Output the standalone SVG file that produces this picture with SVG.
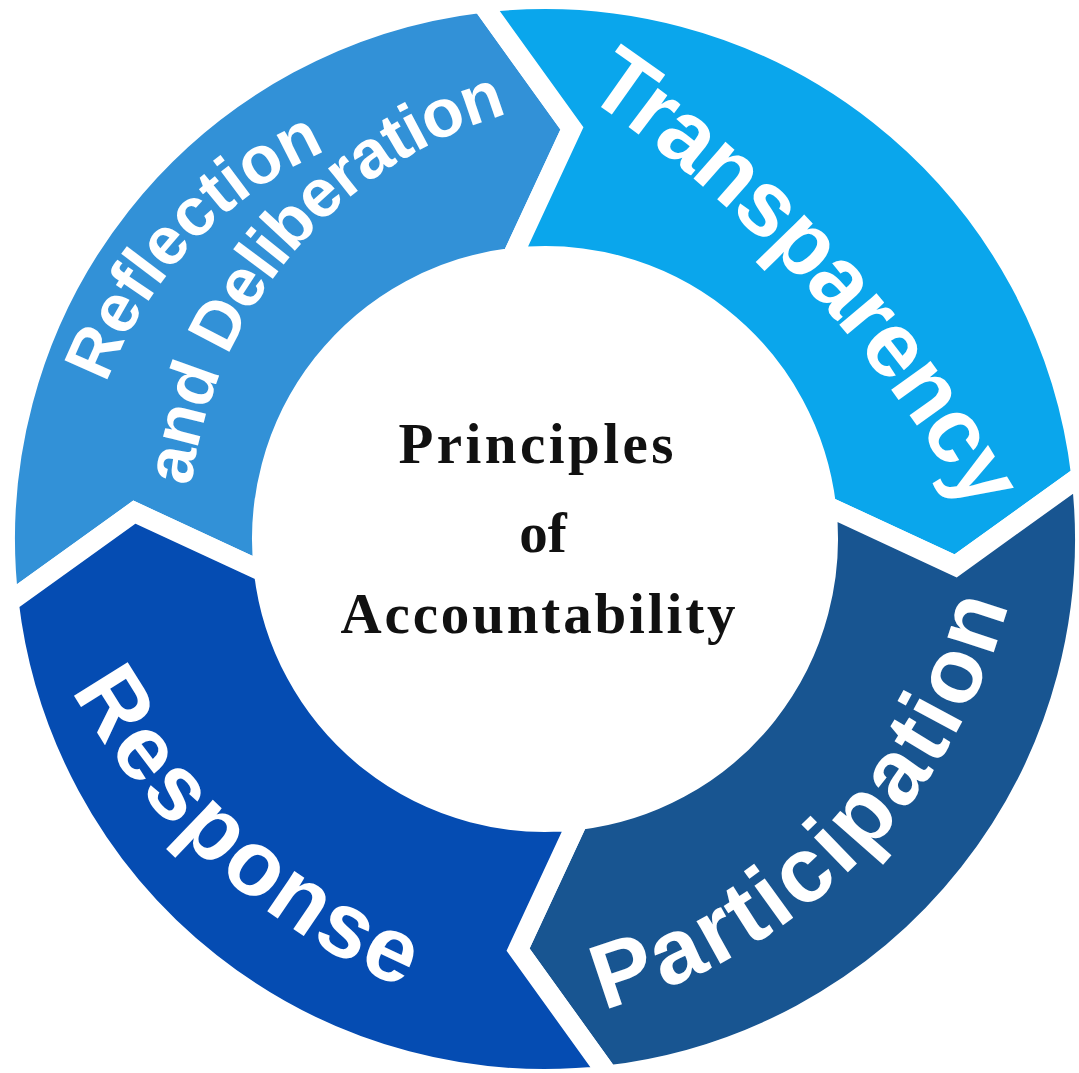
<svg xmlns="http://www.w3.org/2000/svg" width="1079" height="1073" viewBox="0 0 1079 1073">
  <style>
    .seg { stroke: #ffffff; stroke-width: 20; stroke-linejoin: miter; }
    .lbl { font-family: "Liberation Sans", Arial, sans-serif; font-weight: bold; fill: #ffffff; text-anchor: middle; }
    .ctr { font-family: "Liberation Serif", "Times New Roman", serif; font-weight: bold; fill: #111111; font-size: 57px; text-anchor: middle; }
  </style>
  <defs>
    <!-- baselines for the curved labels -->
    <path id="arc-refl-1" d="M 82.8,577.3 A 414 414 0 0 1 517.8,115.7"/>
    <path id="arc-refl-2" d="M 202.5,652.7 A 444 444 0 0 1 673,97.9"/>
    <path id="arc-trans" d="M 345.7,-32.4 A 1277 1277 0 0 1 1080.7,758"/>
    <path id="arc-part" d="M 302.9,1010.7 A 578 578 0 0 0 1008.9,300.9"/>
    <path id="arc-resp" d="M -15,391.9 A 689 689 0 0 0 710.9,1042"/>
  </defs>

  <rect width="1079" height="1073" fill="#ffffff"/>

  <!-- ring segments: each one starts with a notch and ends with a point (clockwise) -->
  <g id="reflection">
    <path class="seg" fill="#3291D7" d="M 8.74,602.47 A 540 540 0 0 1 481.53,2.74 L 571.91,128.38 L 511.74,257.96 A 283 283 0 0 0 263.96,572.26 L 134.38,512.09 Z"/>
    <text class="lbl" font-size="68"><textPath href="#arc-refl-1" startOffset="50%">Reflection</textPath></text>
    <text class="lbl" font-size="68" letter-spacing="-1"><textPath href="#arc-refl-2" startOffset="50%">and Deliberation</textPath></text>
  </g>

  <g id="transparency">
    <path class="seg" fill="#0AA6EC" d="M 481.53,2.74 A 540 540 0 0 1 1081.26,475.53 L 955.62,565.91 L 826.04,505.74 A 283 283 0 0 0 511.74,257.96 L 571.91,128.38 Z"/>
    <text class="lbl" font-size="92" letter-spacing="-2"><textPath href="#arc-trans" startOffset="50%">Transparency</textPath></text>
  </g>

  <g id="participation">
    <path class="seg" fill="#185591" d="M 1081.26,475.53 A 540 540 0 0 1 608.47,1075.26 L 518.09,949.62 L 578.26,820.04 A 283 283 0 0 0 826.04,505.74 L 955.62,565.91 Z"/>
    <text class="lbl" font-size="92" letter-spacing="3.5"><textPath href="#arc-part" startOffset="50%">Participation</textPath></text>
  </g>

  <g id="response">
    <path class="seg" fill="#054CB2" d="M 608.47,1075.26 A 540 540 0 0 1 8.74,602.47 L 134.38,512.09 L 263.96,572.26 A 283 283 0 0 0 578.26,820.04 L 518.09,949.62 Z"/>
    <text class="lbl" font-size="92" letter-spacing="2"><textPath href="#arc-resp" startOffset="50%">Response</textPath></text>
  </g>

  <!-- hub title -->
  <g id="hub">
    <text class="ctr" x="536" y="463" textLength="275" lengthAdjust="spacing">Principles</text>
    <text class="ctr" x="543" y="552">of</text>
    <text class="ctr" x="538" y="633" textLength="395" lengthAdjust="spacing">Accountability</text>
  </g>
</svg>
